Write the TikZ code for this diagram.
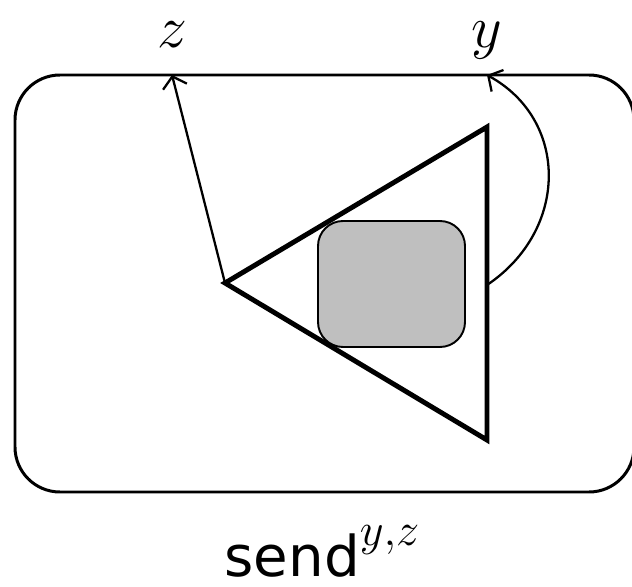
\RequirePackage{fix-cm}
\documentclass[tikz,border=0pt]{standalone}
\usepackage{fontspec}
\setsansfont{DejaVu Sans}
\usetikzlibrary{arrows.meta}
\begin{document}
\begin{tikzpicture}[x=0.02cm,y=-0.02cm,
  frame/.style={draw, line width=1.7pt, rounded corners=0.9cm, minimum width=619*0.02cm, minimum height=417*0.02cm, inner sep=0pt},
  inner/.style={draw, line width=1.1pt, fill={rgb,255:red,191;green,191;blue,191}, rounded corners=0.5cm, minimum width=147*0.02cm, minimum height=126*0.02cm, inner sep=0pt},
  tri/.style={line width=2.8pt, line join=miter},
  wire/.style={line width=1.3pt, -{Straight Barb[length=6pt,width=14pt,line width=1.3pt]}},
  lbl/.style={font=\fontsize{34}{40}\selectfont, inner sep=0pt, anchor=base}]
\useasboundingbox (0,0) rectangle (632,587);
\clip (0,0) rectangle (632,587);
\node[frame] (box) at (324.5,283.5) {};
\coordinate (t1) at (225,283);
\coordinate (t2) at (487,127);
\coordinate (t3) at (487,440);
\coordinate (tr) at (487,285);
\coordinate (zp) at (172,75);
\coordinate (yp) at (487,75);
\draw[tri] (t1) -- (t2) -- (t3) -- cycle;
\node[inner] (core) at (391.5,284) {};
\draw[wire] (t1) -- (zp);
\draw[wire] (tr) .. controls (569,230) and (569,120) .. (yp);
\node[lbl] (z) at (172,48) {$z$};
\node[lbl] (y) at (487,48) {$y$};
\node[lbl, font=\fontsize{32}{38}\selectfont] (send) at (322,576) {\sffamily send\raisebox{17.5pt}{\fontsize{26.4}{30}\selectfont$y{,}z$}};
\end{tikzpicture}
\end{document}
